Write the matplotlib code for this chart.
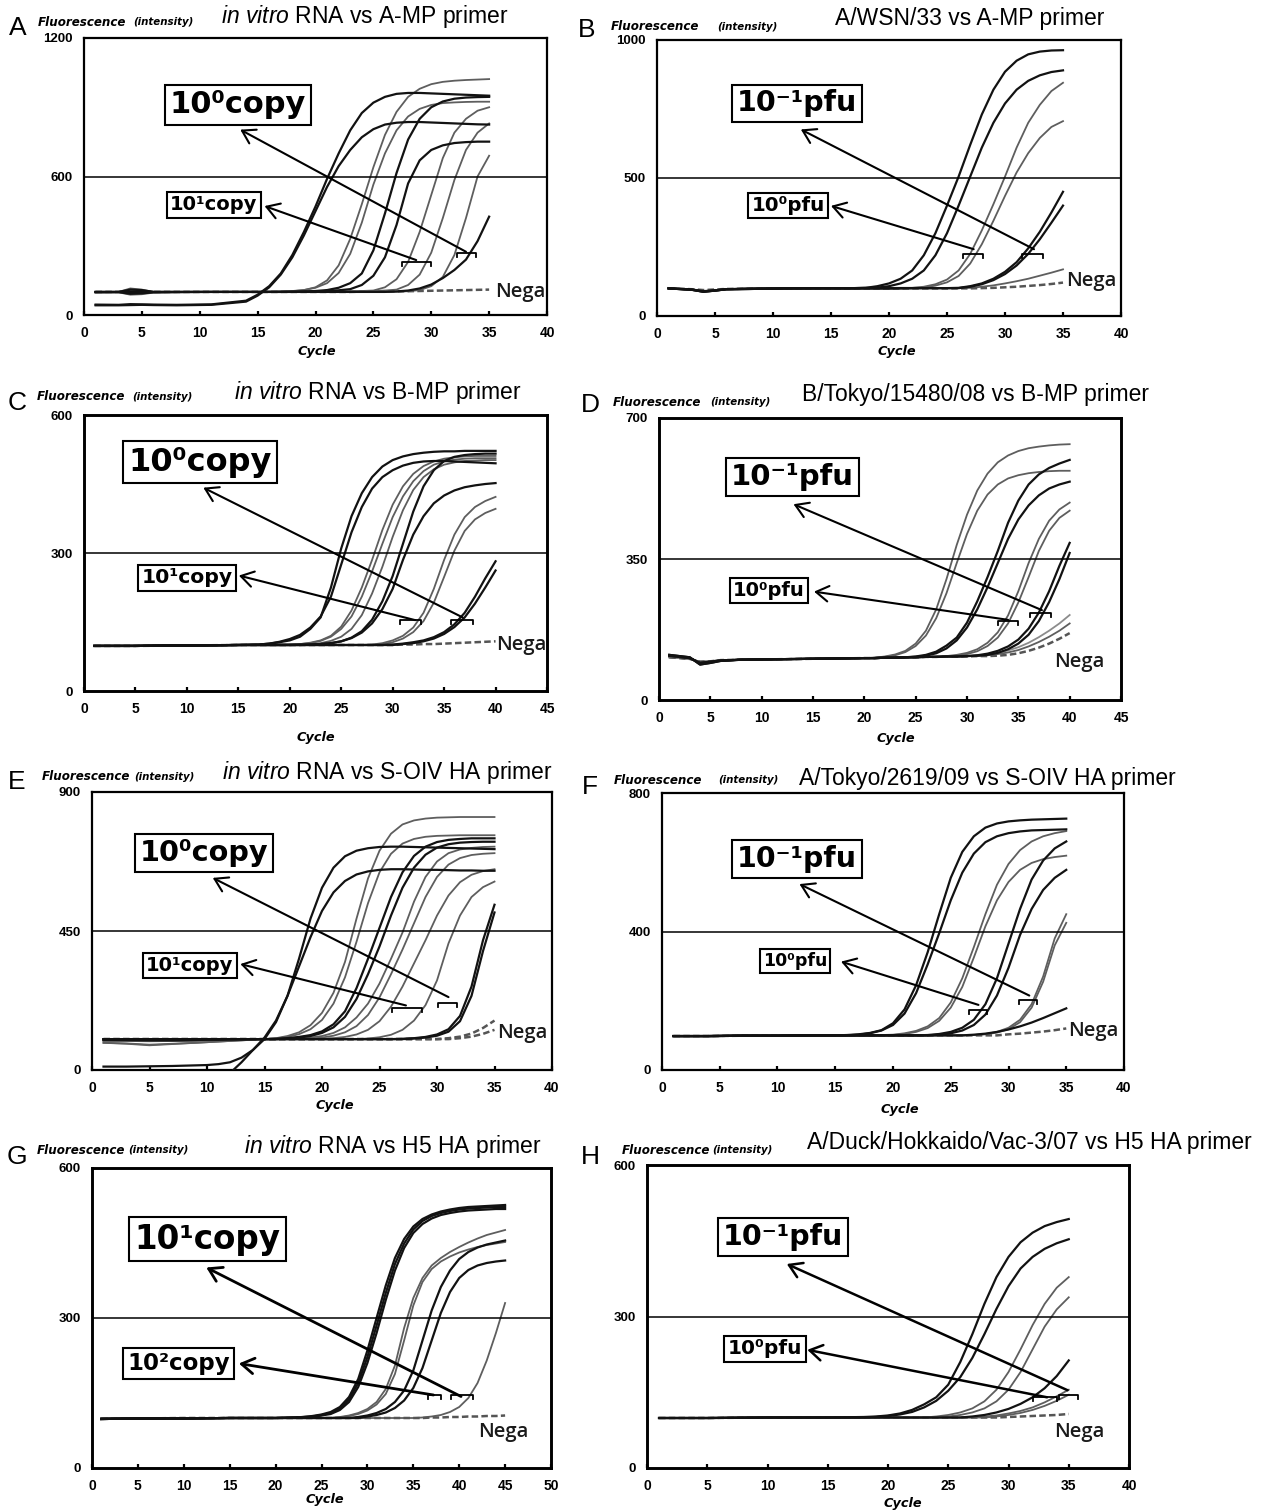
import matplotlib
matplotlib.use("Agg")
import matplotlib.pyplot as plt

plt.rcParams["font.family"] = ["Liberation Sans", "DejaVu Sans"]
plt.rcParams["mathtext.fontset"] = "custom"
plt.rcParams["mathtext.rm"] = "Liberation Sans"
plt.rcParams["mathtext.it"] = "Liberation Sans:italic"
plt.rcParams["mathtext.bf"] = "Liberation Sans:bold"

W, H = 1279, 1512

# ------------------------------------------------------------------ data
# Panel A : in vitro RNA vs A-MP primer
A_cycles = [1, 3, 4, 5, 6, 8, 11, 14, 15, 16, 17, 18, 19, 20, 21, 22, 23, 24, 25, 26, 27, 28, 29, 30, 31, 32, 33, 34, 35]
A_curves = [
    [45, 44, 47, 46, 45, 44, 46, 62, 88, 125, 180, 260, 360, 470, 590, 700, 800, 875, 920, 945, 958, 962, 962, 960, 958, 956, 954, 952, 950],
    [42, 42, 43, 44, 43, 42, 44, 58, 84, 120, 175, 250, 345, 450, 555, 645, 715, 770, 805, 825, 833, 836, 836, 834, 832, 830, 828, 826, 825],
    [100, 100, 115, 110, 100, 99, 100, 100, 100, 101, 102, 104, 108, 120, 150, 215, 330, 480, 640, 780, 880, 945, 980, 1000, 1010, 1015, 1018, 1020, 1022],
    [98, 98, 88, 90, 97, 99, 100, 100, 100, 100, 101, 103, 108, 118, 138, 182, 265, 400, 565, 700, 800, 860, 893, 910, 918, 921, 923, 924, 924],
    [100, 100, 110, 108, 100, 100, 100, 100, 100, 100, 100, 101, 102, 104, 108, 118, 138, 180, 280, 440, 615, 760, 850, 900, 925, 937, 942, 944, 945],
    [98, 99, 92, 94, 98, 99, 100, 100, 100, 100, 100, 100, 101, 102, 104, 107, 112, 130, 170, 250, 390, 570, 670, 715, 735, 745, 749, 751, 751],
    [100, 100, 105, 104, 100, 100, 100, 100, 100, 100, 100, 100, 100, 100, 101, 102, 103, 104, 106, 120, 155, 230, 360, 520, 680, 790, 850, 885, 900],
    [100, 100, 97, 98, 100, 100, 100, 100, 100, 100, 100, 100, 100, 100, 100, 101, 102, 103, 104, 106, 110, 130, 175, 270, 420, 585, 715, 790, 830],
    [100, 100, 100, 100, 100, 100, 100, 100, 100, 100, 100, 100, 100, 100, 100, 100, 100, 100, 100, 100, 101, 103, 108, 125, 165, 260, 420, 600, 690],
    [100, 100, 100, 100, 100, 100, 100, 100, 100, 100, 100, 100, 100, 100, 100, 100, 100, 100, 100, 100, 102, 106, 115, 132, 160, 195, 240, 320, 426],
]
A_colors = ["k", "k", "g", "g", "k", "k", "g", "g", "g", "k"]
A_nega = [[100, 100, 102, 101, 100, 100, 100, 100, 100, 100, 100, 100, 100, 100, 100, 100, 100, 101, 101, 102, 102, 103, 104, 105, 106, 107, 108, 109, 110]]

# Panel B : A/WSN/33 vs A-MP primer
B_cycles = [1, 3, 4, 5, 6, 8, 11, 14, 17, 18, 19, 20, 21, 22, 23, 24, 25, 26, 27, 28, 29, 30, 31, 32, 33, 34, 35]
B_curves = [
    [100, 95, 88, 92, 97, 98, 100, 101, 101, 102, 108, 118, 135, 165, 220, 300, 400, 505, 620, 730, 820, 885, 925, 948, 958, 962, 963],
    [101, 96, 90, 93, 97, 99, 100, 101, 101, 102, 103, 108, 118, 135, 165, 220, 300, 400, 505, 610, 700, 770, 820, 852, 872, 884, 890],
    [100, 96, 90, 93, 98, 99, 100, 100, 101, 101, 101, 102, 102, 102, 106, 115, 132, 165, 225, 310, 405, 505, 610, 700, 765, 815, 845],
    [100, 96, 90, 93, 98, 99, 100, 100, 100, 101, 101, 101, 102, 102, 103, 110, 122, 145, 190, 260, 345, 435, 520, 590, 645, 685, 706],
    [100, 95, 88, 92, 97, 98, 100, 100, 100, 100, 100, 100, 101, 101, 101, 101, 101, 102, 108, 118, 135, 160, 195, 245, 305, 375, 450],
    [100, 95, 88, 92, 97, 98, 100, 100, 100, 100, 100, 100, 100, 101, 101, 101, 101, 101, 106, 115, 130, 152, 183, 225, 278, 338, 400],
    [100, 96, 90, 93, 98, 99, 100, 100, 100, 100, 100, 100, 100, 100, 101, 101, 101, 101, 102, 106, 111, 118, 126, 135, 146, 157, 169],
]
B_colors = ["k", "k", "g", "g", "k", "k", "g"]
B_nega = [[100, 97, 94, 96, 98, 99, 100, 100, 100, 100, 100, 100, 100, 100, 100, 100, 100, 100, 100, 101, 102, 104, 106, 109, 112, 116, 121]]

# Panel C : in vitro RNA vs B-MP primer
C_cycles = [1, 5, 10, 15, 17, 18, 19, 20, 21, 22, 23, 24, 25, 26, 27, 28, 29, 30, 31, 32, 33, 34, 35, 36, 37, 38, 39, 40]
C_curves = [
    [98, 98, 99, 100, 101, 103, 106, 110, 118, 135, 160, 225, 310, 380, 430, 465, 488, 502, 510, 515, 518, 520, 521, 521, 522, 522, 522, 522],
    [98, 98, 99, 100, 101, 103, 107, 113, 122, 138, 162, 205, 275, 345, 400, 440, 465, 480, 490, 496, 499, 500, 500, 499, 498, 497, 496, 495],
    [98, 98, 99, 100, 100, 100, 101, 101, 102, 105, 110, 120, 140, 175, 225, 285, 350, 405, 445, 472, 489, 499, 505, 508, 510, 511, 511, 511],
    [98, 98, 99, 100, 100, 100, 101, 101, 102, 104, 109, 118, 135, 162, 205, 260, 320, 378, 423, 456, 478, 492, 499, 503, 505, 506, 506, 506],
    [98, 98, 99, 100, 100, 100, 100, 101, 101, 102, 104, 109, 118, 135, 165, 212, 270, 335, 393, 437, 465, 482, 492, 497, 500, 501, 502, 502],
    [98, 98, 99, 100, 100, 100, 100, 100, 101, 101, 102, 104, 108, 116, 130, 155, 195, 250, 320, 390, 445, 480, 500, 509, 513, 515, 516, 516],
    [98, 98, 99, 100, 100, 100, 100, 100, 100, 101, 102, 104, 108, 115, 127, 147, 178, 222, 285, 340, 380, 408, 425, 436, 443, 447, 450, 452],
    [98, 98, 99, 100, 100, 100, 100, 100, 100, 100, 100, 100, 100, 100, 100, 101, 104, 110, 120, 138, 170, 222, 285, 340, 378, 400, 413, 422],
    [98, 98, 99, 100, 100, 100, 100, 100, 100, 100, 100, 100, 100, 100, 100, 100, 102, 106, 114, 128, 152, 192, 248, 305, 348, 373, 387, 396],
    [98, 98, 99, 100, 100, 100, 100, 100, 100, 100, 100, 100, 100, 100, 100, 100, 100, 101, 103, 106, 110, 117, 128, 145, 170, 205, 245, 282],
    [98, 98, 99, 100, 100, 100, 100, 100, 100, 100, 100, 100, 100, 100, 100, 100, 100, 100, 102, 104, 108, 114, 124, 139, 160, 190, 225, 262],
]
C_colors = ["k", "k", "g", "g", "g", "k", "k", "g", "g", "k", "k"]
C_nega = [[98, 98, 99, 100, 100, 100, 100, 100, 100, 100, 100, 100, 100, 100, 100, 100, 100, 100, 101, 101, 102, 102, 103, 104, 105, 106, 107, 108]]

# Panel D : B/Tokyo/15480/08 vs B-MP primer
D_cycles = [1, 3, 4, 5, 6, 8, 11, 14, 17, 20, 21, 22, 23, 24, 25, 26, 27, 28, 29, 30, 31, 32, 33, 34, 35, 36, 37, 38, 39, 40]
D_curves = [
    [106, 102, 95, 96, 99, 100, 101, 102, 103, 104, 105, 108, 113, 122, 140, 172, 225, 300, 385, 460, 520, 562, 590, 607, 618, 625, 629, 632, 634, 635],
    [110, 104, 92, 95, 98, 100, 101, 102, 103, 104, 105, 107, 111, 119, 134, 160, 203, 265, 340, 412, 470, 510, 535, 550, 558, 563, 566, 568, 569, 569],
    [112, 106, 88, 92, 97, 100, 101, 102, 103, 104, 104, 105, 105, 106, 108, 112, 120, 135, 155, 192, 245, 305, 370, 440, 495, 535, 560, 576, 587, 596],
    [110, 104, 92, 95, 98, 100, 101, 102, 103, 104, 104, 105, 105, 106, 107, 110, 116, 128, 148, 180, 225, 280, 340, 400, 448, 483, 508, 525, 535, 542],
    [106, 102, 95, 96, 99, 100, 101, 102, 103, 104, 104, 105, 105, 106, 106, 107, 108, 109, 112, 117, 126, 142, 168, 210, 270, 340, 400, 445, 473, 490],
    [110, 104, 92, 95, 98, 100, 101, 102, 103, 104, 104, 105, 105, 106, 106, 107, 107, 108, 110, 114, 121, 134, 155, 190, 242, 305, 370, 420, 452, 470],
    [112, 106, 88, 92, 97, 100, 101, 102, 103, 104, 104, 105, 105, 106, 106, 107, 107, 108, 108, 109, 111, 115, 122, 133, 150, 177, 217, 270, 333, 390],
    [110, 104, 92, 95, 98, 100, 101, 102, 103, 104, 104, 105, 105, 106, 106, 107, 107, 108, 108, 109, 110, 112, 117, 126, 140, 162, 196, 243, 300, 365],
    [106, 102, 95, 96, 99, 100, 101, 102, 103, 104, 104, 105, 105, 106, 106, 107, 107, 108, 108, 109, 110, 113, 117, 123, 131, 142, 156, 172, 190, 211],
    [110, 104, 92, 95, 98, 100, 101, 102, 103, 104, 104, 105, 105, 106, 106, 107, 107, 108, 108, 109, 109, 111, 114, 118, 124, 133, 144, 157, 172, 190],
]
D_colors = ["g", "g", "k", "k", "g", "g", "k", "k", "l", "g"]
D_nega = [[106, 102, 95, 96, 99, 100, 101, 102, 103, 104, 104, 105, 105, 106, 106, 107, 107, 108, 108, 108, 109, 109, 110, 112, 116, 122, 130, 140, 152, 166]]

# Panel E : in vitro RNA vs S-OIV HA primer
E_cycles = [1, 3, 5, 7, 9, 10, 11, 12, 13, 14, 15, 16, 17, 18, 19, 20, 21, 22, 23, 24, 25, 26, 27, 28, 29, 30, 31, 32, 33, 34, 35]
E_curves = [
    [11, 11, 12, 13, 15, 16, 19, 25, 40, 65, 100, 155, 240, 360, 490, 590, 655, 692, 710, 718, 722, 723, 723, 722, 721, 720, 719, 718, 717, 716, 715],
    [-60, -60, -60, -60, -58, -55, -40, -10, 25, 65, 105, 160, 240, 335, 430, 515, 575, 612, 633, 643, 648, 650, 650, 649, 648, 648, 647, 646, 646, 645, 645],
    [95, 94, 93, 94, 95, 96, 97, 98, 99, 100, 100, 103, 110, 122, 145, 185, 250, 350, 490, 620, 710, 765, 795, 808, 814, 817, 818, 819, 819, 819, 819],
    [88, 85, 80, 84, 88, 90, 92, 94, 96, 98, 100, 102, 107, 116, 132, 162, 215, 300, 415, 540, 640, 700, 733, 748, 755, 758, 759, 760, 760, 760, 760],
    [100, 100, 100, 100, 100, 100, 100, 100, 100, 100, 100, 101, 103, 107, 113, 125, 148, 190, 265, 360, 460, 560, 640, 693, 723, 738, 745, 748, 750, 750, 750],
    [97, 97, 96, 96, 97, 98, 98, 99, 99, 100, 100, 100, 102, 105, 110, 120, 138, 172, 230, 310, 400, 500, 590, 655, 697, 720, 731, 736, 738, 739, 739],
    [88, 86, 82, 85, 88, 90, 92, 94, 96, 98, 100, 100, 101, 102, 105, 110, 120, 138, 170, 215, 280, 360, 445, 545, 625, 675, 702, 714, 719, 722, 723],
    [95, 95, 94, 94, 95, 96, 97, 98, 99, 100, 100, 100, 100, 101, 102, 105, 111, 122, 142, 178, 235, 310, 390, 475, 560, 625, 665, 686, 696, 700, 702],
    [96, 96, 95, 95, 96, 97, 98, 99, 100, 100, 100, 100, 100, 100, 100, 101, 103, 107, 115, 130, 158, 205, 270, 345, 420, 500, 565, 608, 632, 644, 650],
    [100, 100, 100, 100, 100, 100, 100, 100, 100, 100, 100, 100, 100, 100, 100, 100, 100, 100, 100, 102, 106, 114, 130, 160, 210, 290, 410, 500, 560, 592, 610],
    [100, 100, 100, 100, 100, 100, 100, 100, 100, 100, 100, 100, 100, 100, 100, 100, 100, 100, 100, 100, 100, 100, 101, 103, 107, 115, 132, 175, 270, 420, 535],
    [100, 100, 100, 100, 100, 100, 100, 100, 100, 100, 100, 100, 100, 100, 100, 100, 100, 100, 100, 100, 100, 100, 100, 102, 105, 111, 124, 158, 240, 385, 510],
]
E_colors = ["k", "k", "g", "g", "k", "k", "g", "g", "g", "g", "k", "k"]
E_nega = [
    [100, 100, 100, 100, 100, 100, 100, 100, 100, 100, 100, 100, 100, 100, 100, 100, 100, 100, 100, 100, 100, 100, 100, 100, 100, 100, 103, 108, 118, 136, 160],
    [100, 100, 100, 100, 100, 100, 100, 100, 100, 100, 100, 100, 100, 100, 100, 100, 100, 100, 100, 100, 100, 100, 100, 100, 100, 100, 100, 103, 108, 117, 130],
]

# Panel F : A/Tokyo/2619/09 vs S-OIV HA primer
F_cycles = [1, 4, 7, 10, 13, 15, 16, 17, 18, 19, 20, 21, 22, 23, 24, 25, 26, 27, 28, 29, 30, 31, 32, 33, 34, 35]
F_curves = [
    [98, 98, 99, 99, 100, 100, 101, 103, 107, 115, 135, 175, 245, 340, 450, 555, 630, 675, 700, 712, 718, 721, 723, 724, 725, 726],
    [98, 98, 99, 99, 100, 100, 100, 102, 106, 114, 130, 163, 222, 305, 395, 490, 570, 625, 658, 675, 684, 689, 692, 693, 694, 695],
    [98, 98, 99, 99, 100, 100, 100, 100, 100, 101, 102, 106, 113, 126, 150, 195, 265, 355, 450, 535, 595, 635, 660, 675, 684, 690],
    [98, 98, 99, 99, 100, 100, 100, 100, 100, 100, 101, 104, 110, 121, 142, 180, 240, 325, 415, 490, 543, 578, 598, 609, 615, 619],
    [98, 98, 99, 99, 100, 100, 100, 100, 100, 100, 100, 100, 100, 101, 104, 110, 122, 145, 190, 265, 365, 465, 550, 605, 640, 660],
    [98, 98, 99, 99, 100, 100, 100, 100, 100, 100, 100, 100, 100, 100, 102, 106, 114, 130, 160, 215, 295, 390, 465, 520, 555, 578],
    [98, 98, 99, 99, 100, 100, 100, 100, 100, 100, 100, 100, 100, 100, 100, 100, 100, 101, 104, 110, 122, 145, 190, 270, 380, 450],
    [98, 98, 99, 99, 100, 100, 100, 100, 100, 100, 100, 100, 100, 100, 100, 100, 100, 101, 103, 108, 118, 138, 180, 255, 360, 425],
    [98, 98, 99, 99, 100, 100, 100, 100, 100, 100, 100, 100, 100, 100, 100, 100, 100, 102, 105, 110, 117, 126, 137, 150, 164, 178],
]
F_colors = ["k", "k", "g", "g", "k", "k", "g", "g", "k"]
F_nega = [[98, 98, 99, 99, 100, 100, 100, 100, 100, 100, 100, 100, 100, 100, 100, 100, 100, 100, 100, 100, 103, 105, 108, 111, 115, 120]]

# Panel G : in vitro RNA vs H5 HA primer
G_cycles = [1, 5, 10, 15, 20, 22, 23, 24, 25, 26, 27, 28, 29, 30, 31, 32, 33, 34, 35, 36, 37, 38, 39, 40, 41, 42, 43, 44, 45]
G_curves = [
    [98, 99, 99, 100, 100, 101, 102, 104, 107, 112, 122, 142, 178, 235, 300, 365, 420, 458, 483, 498, 507, 513, 517, 520, 522, 523, 524, 525, 526],
    [98, 99, 99, 100, 100, 101, 102, 103, 106, 110, 119, 137, 170, 222, 285, 350, 408, 449, 477, 494, 504, 510, 514, 517, 519, 520, 521, 522, 522],
    [98, 99, 99, 100, 100, 101, 101, 102, 105, 108, 116, 132, 162, 210, 270, 336, 395, 440, 470, 488, 499, 506, 510, 513, 515, 516, 517, 518, 518],
    [99, 99, 100, 100, 100, 100, 100, 100, 100, 100, 102, 105, 110, 118, 132, 158, 205, 280, 340, 380, 405, 420, 432, 442, 451, 459, 466, 471, 476],
    [99, 99, 100, 100, 100, 100, 100, 100, 100, 100, 101, 104, 108, 115, 127, 148, 188, 255, 325, 372, 398, 413, 423, 431, 437, 442, 446, 449, 452],
    [98, 99, 99, 100, 100, 100, 100, 100, 100, 100, 100, 100, 102, 105, 110, 118, 132, 155, 195, 255, 315, 362, 395, 418, 432, 441, 447, 451, 455],
    [98, 99, 99, 100, 100, 100, 100, 100, 100, 100, 100, 100, 100, 103, 106, 111, 120, 135, 160, 200, 255, 310, 352, 380, 396, 405, 410, 413, 415],
    [99, 99, 100, 100, 100, 100, 100, 100, 100, 100, 100, 100, 100, 100, 100, 100, 100, 100, 100, 101, 103, 106, 112, 122, 140, 170, 215, 270, 330],
]
G_colors = ["k", "k", "k", "g", "g", "k", "k", "g"]
G_nega = [[99, 99, 100, 100, 100, 100, 100, 100, 100, 100, 100, 100, 100, 100, 100, 100, 100, 100, 100, 100, 101, 101, 102, 102, 103, 103, 104, 104, 105]]

# Panel H : A/Duck/Hokkaido/Vac-3/07 vs H5 HA primer
H_cycles = [1, 5, 10, 15, 18, 19, 20, 21, 22, 23, 24, 25, 26, 27, 28, 29, 30, 31, 32, 33, 34, 35]
H_curves = [
    [99, 99, 100, 100, 101, 102, 104, 108, 115, 126, 140, 165, 210, 265, 325, 378, 418, 447, 466, 479, 487, 493],
    [99, 99, 100, 100, 100, 101, 103, 106, 111, 120, 133, 153, 180, 218, 265, 315, 360, 395, 418, 434, 445, 453],
    [99, 99, 100, 100, 100, 100, 100, 100, 100, 100, 102, 105, 110, 118, 132, 155, 190, 235, 283, 325, 357, 378],
    [99, 99, 100, 100, 100, 100, 100, 100, 100, 100, 100, 102, 105, 110, 118, 132, 155, 190, 235, 280, 314, 338],
    [99, 99, 100, 100, 100, 100, 100, 100, 100, 100, 100, 100, 100, 102, 105, 110, 117, 127, 140, 158, 182, 213],
    [99, 99, 100, 100, 100, 100, 100, 100, 100, 100, 100, 100, 100, 100, 102, 104, 108, 113, 120, 130, 142, 155],
    [99, 99, 100, 100, 100, 100, 100, 100, 100, 100, 100, 100, 100, 100, 100, 102, 105, 109, 115, 123, 133, 145],
]
H_colors = ["k", "k", "g", "g", "k", "g", "g"]
H_nega = [[99, 99, 100, 100, 100, 100, 100, 100, 100, 100, 100, 100, 100, 100, 100, 100, 101, 102, 103, 104, 105, 107]]

# text content
LETTERS = ["A", "B", "C", "D", "E", "F", "G", "H"]
TITLES = [
    r"$\mathit{in\ vitro}$ RNA vs A-MP primer",
    "A/WSN/33 vs A-MP primer",
    r"$\mathit{in\ vitro}$ RNA vs B-MP primer",
    "B/Tokyo/15480/08 vs B-MP primer",
    r"$\mathit{in\ vitro}$ RNA vs S-OIV HA primer",
    "A/Tokyo/2619/09 vs S-OIV HA primer",
    r"$\mathit{in\ vitro}$ RNA vs H5 HA primer",
    "A/Duck/Hokkaido/Vac-3/07 vs H5 HA primer",
]
BIG_LABELS = ["10\u2070copy", "10\u207b\u00b9pfu", "10\u2070copy", "10\u207b\u00b9pfu",
              "10\u2070copy", "10\u207b\u00b9pfu", "10\u00b9copy", "10\u207b\u00b9pfu"]
SMALL_LABELS = ["10\u00b9copy", "10\u2070pfu", "10\u00b9copy", "10\u2070pfu",
                "10\u00b9copy", "10\u2070pfu", "10\u00b2copy", "10\u2070pfu"]
X_MAX = [40, 40, 45, 45, 40, 40, 50, 40]
Y_MAX = [1200, 1000, 600, 700, 900, 800, 600, 600]
THRESH = [600, 500, 300, 350, 450, 400, 300, 300]

# ------------------------------------------------------------------ layout (pixels)
FRAMES = [  # left, right, top, bottom of the plot frame
    (84, 547, 38, 315), (657, 1121, 40, 316),
    (84, 547, 415, 691), (659, 1121, 418, 700),
    (92, 552, 792, 1070), (662, 1124, 793, 1070),
    (92, 551, 1168, 1468), (647, 1129, 1165, 1468),
]
SPINE_LW = [1.6, 1.6, 2.1, 2.1, 1.6, 1.6, 2.1, 2.1]
LETTER_POS = [(18, 28), (587, 30), (17, 403), (590, 405), (17, 782), (590, 787), (17, 1157), (590, 1157)]
TITLE_POS = [(365, 17), (970, 19), (378, 392), (976, 394), (387, 773), (987, 778), (393, 1146), (1029, 1143)]
FLUO_POS = [((38, 22), (133, 22)), ((611, 27), (717, 27)), ((37, 397), (132, 397)), ((613, 402), (710, 402)),
            ((42, 777), (134, 777)), ((614, 780), (718, 780)), ((37, 1150), (128, 1150)), ((622, 1150), (712, 1150))]
CYCLE_POS = [(317, 352), (897, 352), (316, 737), (896, 738), (335, 1106), (900, 1110), (325, 1500), (903, 1503)]

# annotation placement in data coordinates
BIG_BOX = [(13.3, 910, 22), (12.1, 770, 20.5), (11.3, 497, 23), (13.0, 553, 21),
           (9.75, 702, 20.7), (11.7, 609, 20.4), (12.6, 458, 23.5), (11.3, 457, 20.5)]
SMALL_BOX = [(11.2, 477, 14), (11.3, 400, 14.3), (10.0, 246, 14.7), (10.7, 272, 14),
             (8.5, 338, 14), (11.5, 315, 12.5), (9.4, 209, 16.5), (9.8, 236, 14.5)]
BIG_ARROW = [((33.0, 274), (13.5, 803)), ((32.5, 242), (12.4, 676)), ((36.8, 160), (11.6, 442)),
             ((37.3, 223), (13.1, 486)), ((31.0, 236), (10.5, 622)), ((31.8, 215), (11.9, 537)),
             ((40.2, 143), (12.45, 401)), ((34.9, 154), (11.6, 404))]
SMALL_ARROW = [((28.7, 238), (15.6, 472)), ((27.3, 242), (15.0, 399)), ((32.2, 154), (15.05, 251)),
               ((34.0, 199), (15.1, 269)), ((27.3, 209), (12.9, 343)), ((27.4, 188), (15.5, 313)),
               ((37.2, 146), (16.0, 209)), ((33.2, 140), (13.3, 234))]
BRACKETS = [[(27.5, 30.0, 231), (32.2, 33.9, 267)], [(26.4, 28.1, 223), (31.5, 33.3, 223)],
            [(30.7, 32.8, 154), (35.7, 37.8, 154)], [(36.1, 38.2, 217), (33.0, 35.0, 197)],
            [(26.1, 28.7, 200), (30.1, 31.7, 216)], [(26.6, 28.1, 173), (30.9, 32.5, 202)],
            [(36.6, 38.0, 146), (39.1, 41.5, 146)], [(32.0, 34.0, 140), (34.2, 35.8, 144)]]
NEGA_POS = [(35.5, 100), (35.3, 127), (40.1, 100), (38.5, 94), (35.2, 119), (35.2, 113), (42.1, 73), (33.8, 71)]
ARROW_LW = [1.5, 1.5, 1.5, 1.5, 1.5, 1.5, 2.0, 1.8]

CYCLES = [A_cycles, B_cycles, C_cycles, D_cycles, E_cycles, F_cycles, G_cycles, H_cycles]
CURVES = [A_curves, B_curves, C_curves, D_curves, E_curves, F_curves, G_curves, H_curves]
COLORS = [A_colors, B_colors, C_colors, D_colors, E_colors, F_colors, G_colors, H_colors]
NEGAS = [A_nega, B_nega, C_nega, D_nega, E_nega, F_nega, G_nega, H_nega]

for i in range(8):
    for j, v in enumerate(CURVES[i] + NEGAS[i]):
        if len(v) != len(CYCLES[i]):
            raise ValueError(f"panel {LETTERS[i]} curve {j}: {len(v)} vs {len(CYCLES[i])}")

COL = {"k": "#121212", "g": "#5e5e5e", "l": "#8c8c8c"}
LW = {"k": 1.6, "g": 1.3, "l": 1.3}

fig = plt.figure(figsize=(W / 100, H / 100), dpi=100)
fig.patch.set_facecolor("white")


def ftext(px, py, s, **kw):
    fig.text(px / W, 1 - py / H, s, **kw)


for i in range(8):
    l, r, t, b = FRAMES[i]
    ax = fig.add_axes([l / W, 1 - b / H, (r - l) / W, (b - t) / H])
    ax.set_xlim(0, X_MAX[i])
    ax.set_ylim(0, Y_MAX[i])
    px_per_unit = (b - t) / Y_MAX[i]

    for vals, c in zip(CURVES[i], COLORS[i]):
        ax.plot(CYCLES[i], vals, color=COL[c], lw=LW[c], zorder=3 if c == "k" else 2,
                solid_joinstyle="round")
    for vals in NEGAS[i]:
        ax.plot(CYCLES[i], vals, color="#555555", lw=1.8, ls=(0, (2.6, 1.3)), zorder=2)

    ax.axhline(THRESH[i], color="black", lw=1.1, zorder=4)

    for sp in ax.spines.values():
        sp.set_linewidth(SPINE_LW[i])
        sp.set_color("black")

    ax.set_xticks(list(range(0, X_MAX[i] + 1, 5)))
    ax.set_yticks([0, THRESH[i], Y_MAX[i]])
    ax.tick_params(axis="x", direction="in", length=3, width=1.6, pad=8, labelsize=10)
    ax.tick_params(axis="y", length=0, pad=8, labelsize=9.5)
    for lab in ax.get_xticklabels() + ax.get_yticklabels():
        lab.set_fontweight("bold")
        lab.set_family("Liberation Sans")

    # brackets
    d = 4.0 / px_per_unit
    for x1, x2, v in BRACKETS[i]:
        ax.plot([x1, x1, x2, x2], [v - d, v, v, v - d], color="black", lw=1.3, zorder=5)

    # arrows
    for tail, head in (BIG_ARROW[i], SMALL_ARROW[i]):
        ax.annotate("", xy=head, xytext=tail,
                    arrowprops=dict(arrowstyle="->,head_length=0.45,head_width=0.28",
                                    lw=ARROW_LW[i], color="black", shrinkA=0, shrinkB=0,
                                    mutation_scale=20),
                    zorder=5)

    # boxed labels
    for (bx, by, fs), s in ((BIG_BOX[i], BIG_LABELS[i]), (SMALL_BOX[i], SMALL_LABELS[i])):
        ax.text(bx, by, s, ha="center", va="center", fontsize=fs, fontweight="bold",
                family="DejaVu Sans", zorder=7,
                bbox=dict(boxstyle="square,pad=0.17", fc="white", ec="black", lw=1.5))

    nx, ny = NEGA_POS[i]
    ax.text(nx, ny, "Nega", ha="left", va="center", fontsize=14.5, family=["Open Sans", "DejaVu Sans"],
            fontweight=600, color="#1a1a1a", zorder=6, clip_on=False)

    # figure-level texts
    lx, ly = LETTER_POS[i]
    ftext(lx, ly, LETTERS[i], ha="center", va="center", fontsize=19, family="Liberation Sans")
    tx, ty = TITLE_POS[i]
    ftext(tx, ty, TITLES[i], ha="center", va="center", fontsize=16.5, family="Liberation Sans")
    (f1x, f1y), (f2x, f2y) = FLUO_POS[i]
    ftext(f1x, f1y, "Fluorescence", ha="left", va="center", fontsize=8.6, family="DejaVu Sans",
          fontweight="bold", fontstyle="oblique")
    ftext(f2x, f2y, "(intensity)", ha="left", va="center", fontsize=7.4, family="DejaVu Sans",
          fontweight="bold", fontstyle="oblique")
    cx, cy = CYCLE_POS[i]
    ftext(cx, cy, "Cycle", ha="center", va="center", fontsize=9.3, family="DejaVu Sans",
          fontweight="bold", fontstyle="oblique")

fig.savefig("out.png", dpi=100, facecolor="white")
